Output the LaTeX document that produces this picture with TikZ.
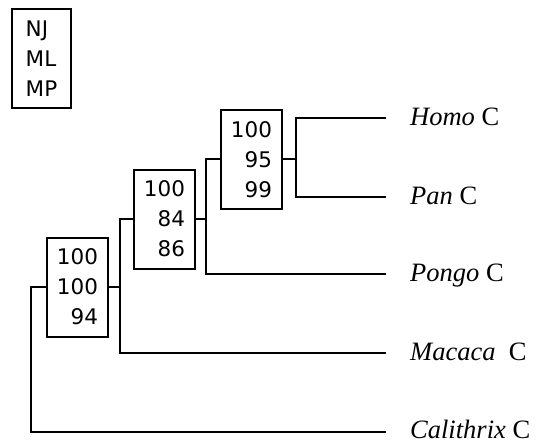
\documentclass[tikz,border=0pt]{standalone}
\usepackage{fontspec}
\setmainfont{Liberation Serif}
\newfontfamily\numfont{DejaVu Sans}
\begin{document}
\begin{tikzpicture}[x=1pt,y=-1pt,
  br/.style={line width=2pt},
  suppbox/.style={draw,line width=2pt,minimum width=61pt,minimum height=99pt,inner sep=0pt,align=right,font=\numfont\fontsize{21.5}{30}\selectfont},
  legbox/.style={draw,line width=2pt,minimum width=59pt,minimum height=99pt,inner sep=0pt,align=left,font=\numfont\fontsize{21.5}{30}\selectfont},
  taxon/.style={anchor=base west,inner sep=0pt,font=\fontsize{26.5}{30}\selectfont}]
\useasboundingbox (0,0) rectangle (539,444);
% legend
\node[legbox] (leg) at (41.5,59) {NJ\\ML\\MP};
% support boxes
\node[suppbox] (A) at (251.5,159.5) {100\\95\\99};
\node[suppbox] (B) at (164.5,219) {100\\84\\86};
\node[suppbox] (C) at (77.5,287) {100\\100\\94};
% leaf ends
\coordinate (homoend) at (386,118);
\coordinate (panend) at (386,197);
\coordinate (pongoend) at (386,274);
\coordinate (macacaend) at (386,353);
\coordinate (calend) at (386,432);
% labels
\node[taxon] (homo) at (410,125.5) {\textit{Homo} C};
\node[taxon] (pan) at (410,204.5) {\textit{Pan} C};
\node[taxon] (pongo) at (410,281.5) {\textit{Pongo} C};
\node[taxon] (macaca) at (410,360.5) {\textit{Macaca}\ \ C};
\node[taxon] (cal) at (410,438.5) {\textit{Calithrix} C};
% junctions
\coordinate (jA) at (296,159.5);
\coordinate (jAB) at (206,159.5);
\coordinate (jBC) at (120,219);
\coordinate (jroot) at (31,287);
% branches
\draw[br] (A.east) -- (jA);
\draw[br] (homoend) -| (jA) |- (panend);
\draw[br] (A.west) -- (jAB) |- (pongoend);
\draw[br] (B.east) -- (B.east -| jAB);
\draw[br] (B.west) -- (jBC) |- (macacaend);
\draw[br] (C.east) -- (C.east -| jBC);
\draw[br] (C.west) -- (jroot) |- (calend);
\end{tikzpicture}
\end{document}
